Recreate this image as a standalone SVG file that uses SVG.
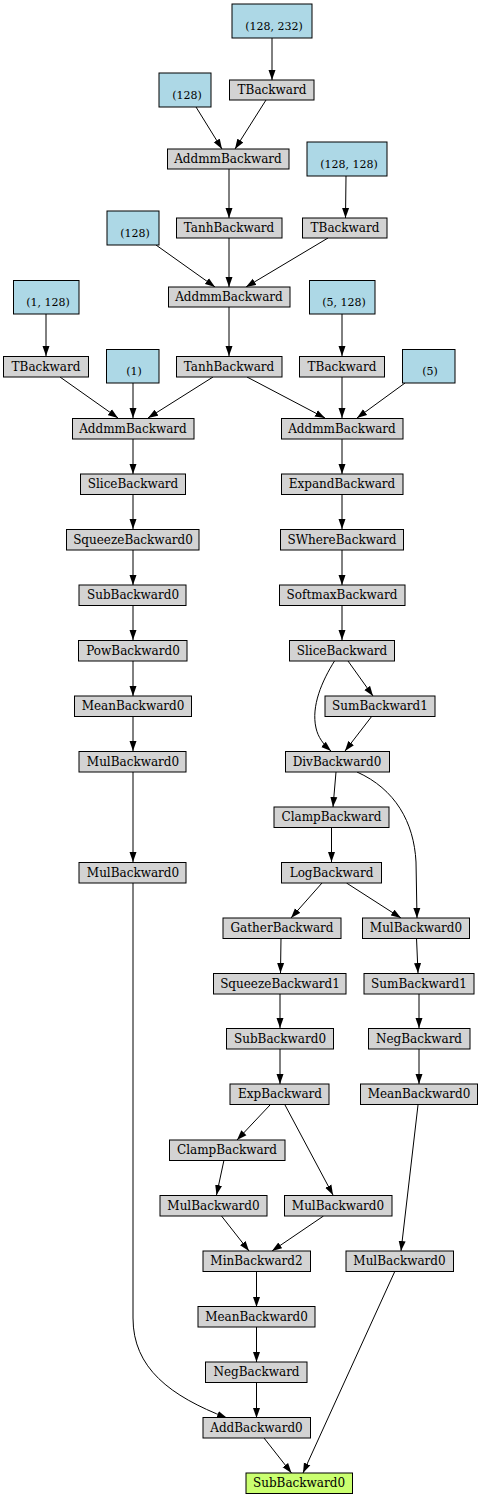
<svg xmlns="http://www.w3.org/2000/svg" width="481" height="1497" viewBox="0 0 481 1497">
<style>
.n rect{fill:#d3d3d3;stroke:#000;stroke-width:1}
.p rect{fill:#add8e6;stroke:#000;stroke-width:1}
.o rect{fill:#caff70;stroke:#000;stroke-width:1}
text{font-family:"DejaVu Serif","Liberation Serif",serif;font-size:12px;text-anchor:middle;fill:#000}
.p text{font-size:11px}
#edges path{fill:none;stroke:#000;stroke-width:1;marker-end:url(#ah)}
</style>
<defs>
<marker id="ah" markerUnits="userSpaceOnUse" markerWidth="10" markerHeight="8" refX="10" refY="3.5" orient="auto" viewBox="0 0 10 7"><polygon points="0,0 10,3.5 0,7" fill="#000"/></marker>
</defs>
<rect width="481" height="1497" fill="#fff"/>
<g id="edges">
<path d="M272,38 L272,80"/>
<path d="M196,107 L222,149"/>
<path d="M266,100 L235,149"/>
<path d="M229,169 L229,218"/>
<path d="M346,176 L345.5,218"/>
<path d="M156,245 L215,287"/>
<path d="M229,238 L229,287"/>
<path d="M328,238 L246,287"/>
<path d="M229,307 L229,356"/>
<path d="M46,314 L46,356"/>
<path d="M342,314 L342,356"/>
<path d="M60,377 L118,418"/>
<path d="M133,383 L133,418"/>
<path d="M213,377 L148,418"/>
<path d="M247,377 L325,418"/>
<path d="M342,377 L342,418"/>
<path d="M405,383 L357,418"/>
<path d="M133,439 L133,474"/>
<path d="M342,439 L342,474"/>
<path d="M133,494 L133,529"/>
<path d="M342,494 L342,529"/>
<path d="M133,550 L133,585"/>
<path d="M342,550 L342,585"/>
<path d="M133,605 L133,640"/>
<path d="M342,605 L342,640"/>
<path d="M133,661 L133,696"/>
<path d="M348,661 L373,696"/>
<path d="M334.5,661 C322,681 311,706 316,728 C318,737 323,744 331,751"/>
<path d="M372,716 L345,751"/>
<path d="M133,716 L133,751"/>
<path d="M133,772 L133,862"/>
<path d="M336,772 L333,807"/>
<path d="M357,772 C395,789 414,822 416,862 L417,918"/>
<path d="M331.5,827 L331.5,862"/>
<path d="M322,883 L291,918"/>
<path d="M346.5,883 L401,918"/>
<path d="M281,938 L280.5,973"/>
<path d="M416.5,938 L418,973"/>
<path d="M280,994 L280,1028"/>
<path d="M419,994 L419,1028"/>
<path d="M280,1049 L280,1084"/>
<path d="M419,1049 L419,1084"/>
<path d="M270,1105 L237,1140"/>
<path d="M285,1105 L333,1195"/>
<path d="M418,1105 L401,1251"/>
<path d="M224,1160 L216.5,1195"/>
<path d="M221.5,1216 L249,1251"/>
<path d="M323.5,1216 L272,1251"/>
<path d="M133,883 L133,1318 C133,1368 170,1396 227,1418"/>
<path d="M256.5,1271 L256.5,1307"/>
<path d="M256.5,1327 L256.5,1362"/>
<path d="M256.5,1382 L256.5,1418"/>
<path d="M264,1438 L291.5,1473"/>
<path d="M395,1271 L303,1473"/>
</g>
<g id="p1" class="p"><rect x="232" y="4" width="80" height="34"/><text x="274" y="30">(128, 232)</text></g>
<g id="t1" class="n"><rect x="229.5" y="80" width="84.5" height="20"/><text x="272" y="94">TBackward</text></g>
<g id="p2" class="p"><rect x="159" y="73" width="52" height="34"/><text x="187" y="99">(128)</text></g>
<g id="a1" class="n"><rect x="167.5" y="149" width="121.5" height="20"/><text x="228" y="163">AddmmBackward</text></g>
<g id="p3" class="p"><rect x="307" y="142" width="80" height="34"/><text x="349" y="168">(128, 128)</text></g>
<g id="h1" class="n"><rect x="176.5" y="218" width="105.5" height="20"/><text x="229" y="232">TanhBackward</text></g>
<g id="t2" class="n"><rect x="302.5" y="218" width="84.5" height="20"/><text x="345" y="232">TBackward</text></g>
<g id="p4" class="p"><rect x="107" y="211" width="52" height="34"/><text x="135" y="237">(128)</text></g>
<g id="a2" class="n"><rect x="168.5" y="287" width="121.5" height="20"/><text x="229" y="301">AddmmBackward</text></g>
<g id="p5" class="p"><rect x="13.5" y="280.5" width="65.5" height="33.5"/><text x="48" y="306">(1, 128)</text></g>
<g id="p6" class="p"><rect x="309.5" y="280.5" width="65.5" height="33.5"/><text x="344" y="306">(5, 128)</text></g>
<g id="t3" class="n"><rect x="3.5" y="356.5" width="85" height="20.5"/><text x="46" y="370.5">TBackward</text></g>
<g id="p7" class="p"><rect x="106.5" y="349.5" width="52.5" height="33.5"/><text x="134" y="375">(1)</text></g>
<g id="h2" class="n"><rect x="176.5" y="356.5" width="105.5" height="20.5"/><text x="229" y="370.5">TanhBackward</text></g>
<g id="t4" class="n"><rect x="299.5" y="356.5" width="85" height="20.5"/><text x="342" y="370.5">TBackward</text></g>
<g id="p8" class="p"><rect x="402.5" y="349.5" width="52.5" height="33.5"/><text x="430" y="375">(5)</text></g>
<g id="a3" class="n"><rect x="72.5" y="418.5" width="121.5" height="20.5"/><text x="133" y="432.5">AddmmBackward</text></g>
<g id="a4" class="n"><rect x="281.5" y="418.5" width="121.5" height="20.5"/><text x="342" y="432.5">AddmmBackward</text></g>
<g id="s1" class="n"><rect x="80.5" y="474" width="105" height="20.5"/><text x="133" y="488">SliceBackward</text></g>
<g id="e1" class="n"><rect x="281.5" y="474" width="121.5" height="20.5"/><text x="342" y="488">ExpandBackward</text></g>
<g id="q0" class="n"><rect x="66.5" y="529.5" width="132.5" height="20.5"/><text x="133" y="543.5">SqueezeBackward0</text></g>
<g id="w1" class="n"><rect x="280.5" y="529.5" width="123" height="20.5"/><text x="342" y="543.5">SWhereBackward</text></g>
<g id="sb1" class="n"><rect x="79" y="585" width="107" height="20.5"/><text x="133" y="599">SubBackward0</text></g>
<g id="sm1" class="n"><rect x="279.5" y="585" width="125.5" height="20.5"/><text x="342" y="599">SoftmaxBackward</text></g>
<g id="pw1" class="n"><rect x="78.5" y="640.5" width="108.5" height="20.5"/><text x="133" y="654.5">PowBackward0</text></g>
<g id="s2" class="n"><rect x="289.5" y="640.5" width="105" height="20.5"/><text x="342" y="654.5">SliceBackward</text></g>
<g id="m1" class="n"><rect x="74.5" y="696" width="117" height="20.5"/><text x="133" y="710">MeanBackward0</text></g>
<g id="su1" class="n"><rect x="325" y="696" width="110" height="20.5"/><text x="380" y="710">SumBackward1</text></g>
<g id="mu1" class="n"><rect x="79" y="751.5" width="107" height="20.5"/><text x="133" y="765.5">MulBackward0</text></g>
<g id="d1" class="n"><rect x="285.5" y="751.5" width="104" height="20.5"/><text x="337" y="765.5">DivBackward0</text></g>
<g id="c1" class="n"><rect x="274" y="807" width="115" height="20.5"/><text x="331.5" y="821">ClampBackward</text></g>
<g id="mu2" class="n"><rect x="79" y="862.5" width="107" height="20.5"/><text x="133" y="876.5">MulBackward0</text></g>
<g id="l1" class="n"><rect x="281.5" y="862.5" width="100" height="20.5"/><text x="331.5" y="876.5">LogBackward</text></g>
<g id="g1" class="n"><rect x="223" y="918" width="118" height="20.5"/><text x="282" y="932">GatherBackward</text></g>
<g id="mu3" class="n"><rect x="362.5" y="918" width="107" height="20.5"/><text x="416" y="932">MulBackward0</text></g>
<g id="q1" class="n"><rect x="213.5" y="973.5" width="132.5" height="20.5"/><text x="280" y="987.5">SqueezeBackward1</text></g>
<g id="su2" class="n"><rect x="364" y="973.5" width="110" height="20.5"/><text x="419" y="987.5">SumBackward1</text></g>
<g id="sb2" class="n"><rect x="226.5" y="1028.5" width="107" height="20.5"/><text x="280" y="1042.5">SubBackward0</text></g>
<g id="ng1" class="n"><rect x="368.5" y="1028.5" width="101.5" height="20.5"/><text x="419" y="1042.5">NegBackward</text></g>
<g id="ex1" class="n"><rect x="230" y="1084" width="99" height="20.5"/><text x="280" y="1098">ExpBackward</text></g>
<g id="m2" class="n"><rect x="360.5" y="1084" width="117" height="20.5"/><text x="419" y="1098">MeanBackward0</text></g>
<g id="c2" class="n"><rect x="169.5" y="1140" width="115.5" height="20.5"/><text x="227" y="1154">ClampBackward</text></g>
<g id="mu4" class="n"><rect x="160" y="1195.5" width="107" height="20.5"/><text x="213.5" y="1209.5">MulBackward0</text></g>
<g id="mu5" class="n"><rect x="284.5" y="1195.5" width="107.5" height="20.5"/><text x="338" y="1209.5">MulBackward0</text></g>
<g id="mn1" class="n"><rect x="203" y="1251" width="107.5" height="20.5"/><text x="256.5" y="1265">MinBackward2</text></g>
<g id="mu6" class="n"><rect x="346" y="1251" width="107.5" height="20.5"/><text x="399.5" y="1265">MulBackward0</text></g>
<g id="m3" class="n"><rect x="198" y="1306.5" width="117" height="20.5"/><text x="256.5" y="1320.5">MeanBackward0</text></g>
<g id="ng2" class="n"><rect x="205.5" y="1362" width="101.5" height="20.5"/><text x="256.5" y="1376">NegBackward</text></g>
<g id="ad1" class="n"><rect x="203" y="1417.5" width="107.5" height="20.5"/><text x="256.5" y="1431.5">AddBackward0</text></g>
<g id="out" class="o"><rect x="246" y="1473" width="106.5" height="20.5"/><text x="299" y="1487">SubBackward0</text></g>
</svg>
